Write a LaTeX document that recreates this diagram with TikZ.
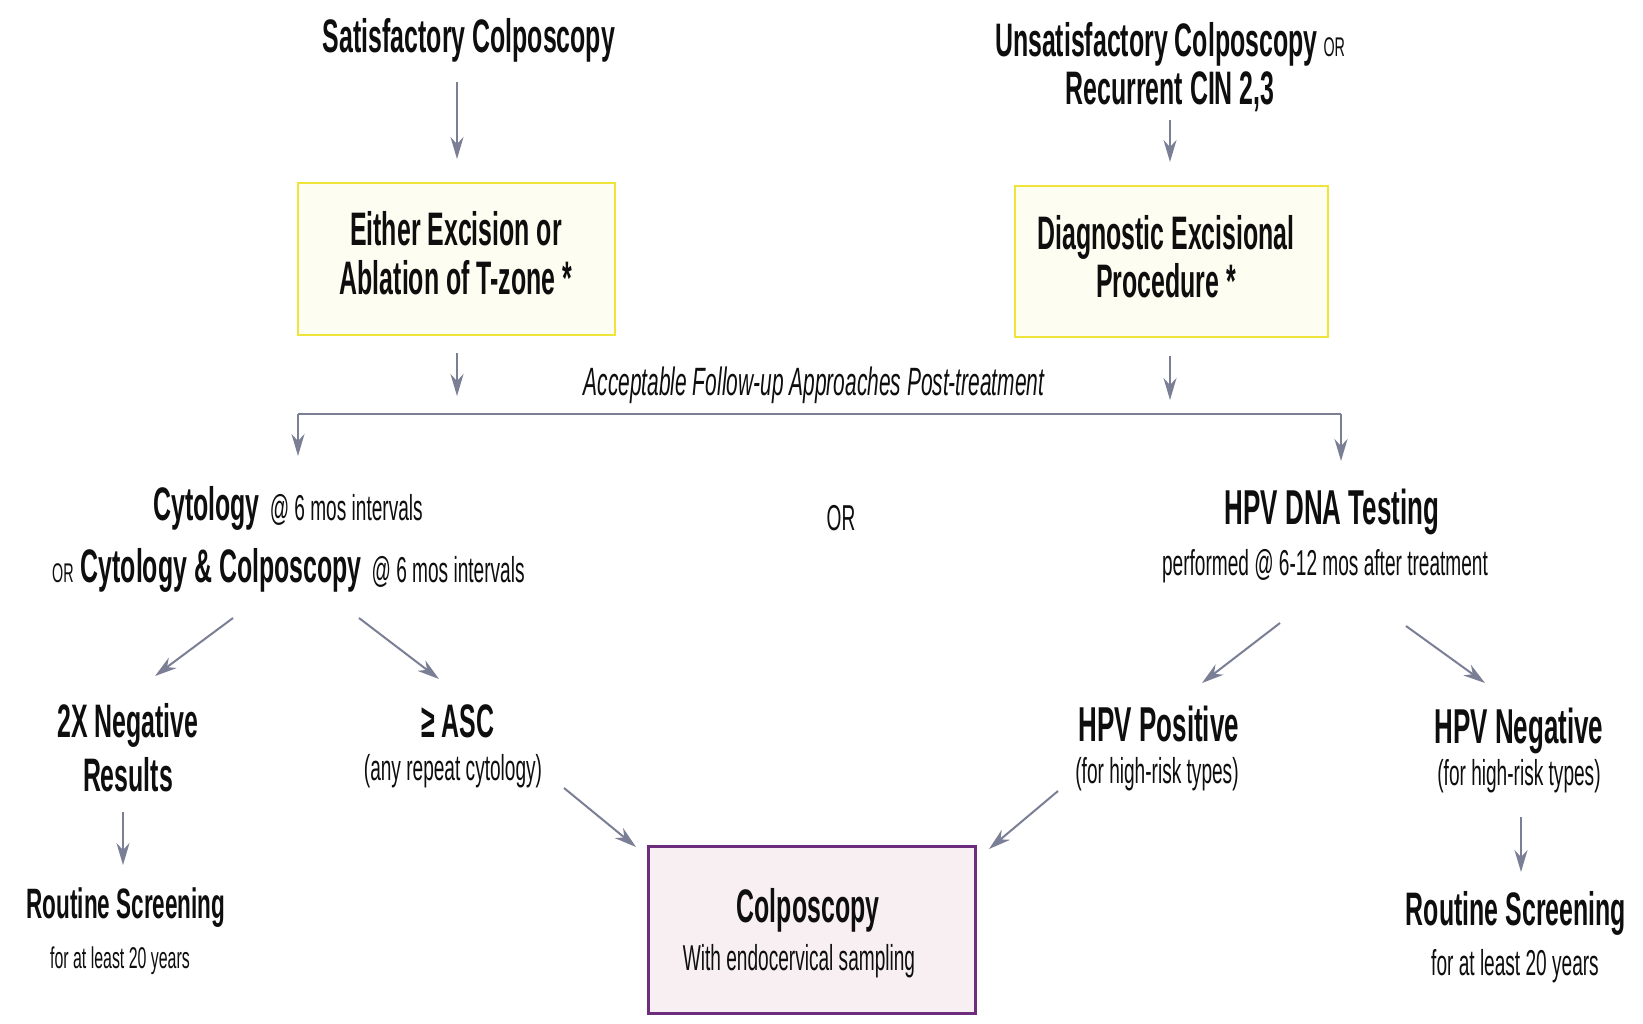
\documentclass[tikz,border=0pt]{standalone}
\usepackage{fontspec}
\setmainfont{Liberation Sans}[FakeStretch=0.53]
\usetikzlibrary{arrows.meta}
\definecolor{arrowgray}{HTML}{7B7F96}
\definecolor{ybord}{HTML}{EEE43A}
\definecolor{yfill}{HTML}{FDFDF1}
\definecolor{pbord}{HTML}{6E2C7C}
\definecolor{pfill}{HTML}{F8EFF3}
\definecolor{ink}{HTML}{0E0E0E}
\newcommand\txB{\bfseries\fontsize{47}{52}\selectfont}
\newcommand\txBw{\bfseries\fontsize{49}{54}\selectfont}
\newcommand\txBs{\bfseries\fontsize{42.5}{48}\selectfont}
\newcommand\txR{\mdseries\fontsize{36}{40}\selectfont}
\newcommand\txRs{\mdseries\fontsize{30}{34}\selectfont}
\newcommand\txOR{\mdseries\fontsize{27}{30}\selectfont}
\newcommand\txI{\mdseries\itshape\fontsize{39.5}{44}\selectfont}
\begin{document}
\begin{tikzpicture}[x=1pt,y=-1pt,
  arr/.style={draw=arrowgray, line width=2pt, -{Stealth[length=22pt,width=13pt,inset=7pt]}},
  lbl/.style={inner sep=0pt, anchor=base, text=ink},
  lblw/.style={inner sep=0pt, anchor=base west, text=ink},
  ybox/.style={draw=ybord, fill=yfill, line width=2pt, inner sep=0pt},
  pbox/.style={draw=pbord, fill=pfill, line width=3pt, inner sep=0pt}]
\useasboundingbox[fill=white] (0,0) rectangle (1643,1023);

% boxes
\node[ybox, minimum width=317pt, minimum height=152pt] (box1) at (456.5,259) {};
\node[ybox, minimum width=313pt, minimum height=151pt] (box2) at (1171.5,261.5) {};
\node[pbox, minimum width=327pt, minimum height=167pt] (box3) at (811.5,929.5) {};

% top texts
\node[lbl] (sat) at (469,52) {\txB Satisfactory Colposcopy};
\node[lbl] (unsat) at (1170,56) {\txB Unsatisfactory Colposcopy\hspace{6pt}\txOR OR};
\node[lbl] (recur) at (1170,104) {\txB Recurrent CIN 2,3};

% box texts
\node[lbl] (ex1) at (456,245) {\txB Either Excision or};
\node[lbl] (ex2) at (456,294) {\txB Ablation of T-zone *};
\node[lbl] (dx1) at (1166,249) {\txB Diagnostic Excisional};
\node[lbl] (dx2) at (1166,297) {\txB Procedure *};

\node[lbl] (acc) at (814,395) {\txI Acceptable Follow-up Approaches Post-treatment};

% middle level
\node[lblw] (cyto1) at (153,520) {\txB Cytology\hspace{10pt}\txR @ 6 mos intervals};
\node[lblw] (cyto2) at (52,582) {\txOR OR\hspace{7pt}\txB Cytology \& Colposcopy\hspace{10pt}\txR @ 6 mos intervals};
\node[inner sep=0pt, text=ink] (or) at (841,518) {\txR OR};
\node[lbl] (hpv) at (1332,524) {\txBw HPV DNA Testing};
\node[lbl] (hpvsub) at (1325,575) {\txR performed @ 6-12 mos after treatment};

% lower level
\node[lbl] (neg1) at (128,737) {\txB 2X Negative};
\node[lbl] (neg2) at (128,791) {\txB Results};
\node[lbl] (rs1) at (126,918) {\txBs Routine Screening};
\node[lbl] (rs1s) at (120,968) {\txRs for at least 20 years};
\node[lbl] (asc) at (458,737) {\txB ≥ ASC};
\node[lbl] (ascs) at (453,780) {\txR (any repeat cytology)};
\node[lbl] (pos) at (1159,741) {\txBw HPV Positive};
\node[lbl] (poss) at (1157,783) {\txR (for high-risk types)};
\node[lbl] (negh) at (1519,743) {\txBw HPV Negative};
\node[lbl] (neghs) at (1519,785) {\txR (for high-risk types)};
\node[lbl] (rs2) at (1516,925) {\txB Routine Screening};
\node[lbl] (rs2s) at (1515,975) {\txR for at least 20 years};
\node[lbl] (colp) at (808,922) {\txB Colposcopy};
\node[lbl] (colps) at (799,970) {\txR With endocervical sampling};

% connector end points
\coordinate (a1s) at (457,82);   \coordinate (a1e) at (457,159);
\coordinate (a2s) at (1170,120); \coordinate (a2e) at (1170,162);
\coordinate (a3s) at (457,353);  \coordinate (a3e) at (457,396);
\coordinate (a4s) at (1170,356); \coordinate (a4e) at (1170,400);
\coordinate (hl) at (298,414);   \coordinate (hr) at (1341,414);
\coordinate (hle) at (298,456);  \coordinate (hre) at (1341,461);
\coordinate (d1s) at (233,618);  \coordinate (d1e) at (155,676);
\coordinate (d2s) at (359,618);  \coordinate (d2e) at (439,679);
\coordinate (d3s) at (1280,623); \coordinate (d3e) at (1202,683);
\coordinate (d4s) at (1406,626); \coordinate (d4e) at (1485,683);
\coordinate (d5s) at (564,788);  \coordinate (d5e) at (636,847);
\coordinate (d6s) at (1058,791); \coordinate (d6e) at (989,849);
\coordinate (v1s) at (123,812);  \coordinate (v1e) at (123,865);
\coordinate (v2s) at (1521,817); \coordinate (v2e) at (1521,872);

% connectors
\draw[arr] (a1s) -- (a1e);
\draw[arr] (a2s) -- (a2e);
\draw[arr] (a3s) -- (a3e);
\draw[arr] (a4s) -- (a4e);
\draw[draw=arrowgray, line width=2.5pt] (hl) -- (hr);
\draw[arr] (hl) -- (hle);
\draw[arr] (hr) -- (hre);
\draw[arr] (d1s) -- (d1e);
\draw[arr] (d2s) -- (d2e);
\draw[arr] (d3s) -- (d3e);
\draw[arr] (d4s) -- (d4e);
\draw[arr] (d5s) -- (d5e);
\draw[arr] (d6s) -- (d6e);
\draw[arr] (v1s) -- (v1e);
\draw[arr] (v2s) -- (v2e);
\end{tikzpicture}
\end{document}
